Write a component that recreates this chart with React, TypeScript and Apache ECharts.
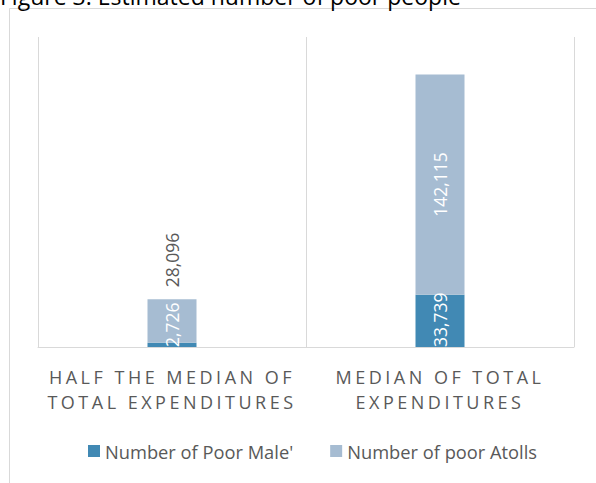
import React, { useEffect, useRef } from "react";
import * as echarts from "echarts";

const titleText = "Figure 3: Estimated number of poor people";
const categories = ["HALF THE MEDIAN OF\nTOTAL EXPENDITURES", "MEDIAN OF TOTAL\nEXPENDITURES"];
const seriesNames = ["Number of Poor Male'", "Number of poor Atolls"];
const maleValues = [2726, 33739];
const atollValues = [28096, 142115];
const colors = ["#4189b4", "#a6bcd2"];
const textColor = "#595959";
const fontFamily = "'Open Sans', sans-serif";

const fmt = (v: number) => v.toLocaleString("en-US");

export default function App() {
  const ref = useRef<HTMLDivElement>(null);
  useEffect(() => {
    if (!ref.current) return;
    const chart = echarts.init(ref.current, null, { renderer: "svg" });
    chart.setOption({
      animation: false,
      textStyle: { fontFamily },
      graphic: [
        {
          type: "rect",
          shape: { x: 9.5, y: 8.5, width: 700, height: 600 },
          style: { fill: "none", stroke: "#d9d9d9", lineWidth: 1 },
          silent: true,
        },
        {
          type: "text",
          x: 0,
          y: 7.5,
          style: {
            text: titleText,
            fontSize: 23,
            fontFamily,
            fill: "#000000",
            textAlign: "left",
            textVerticalAlign: "bottom",
          },
        },
      ],
      grid: { left: 38, right: 22, top: 37, bottom: 136, containLabel: false },
      legend: {
        left: 83,
        top: 437,
        itemWidth: 12,
        itemHeight: 12,
        itemGap: 37,
        icon: "rect",
        textStyle: { color: textColor, fontSize: 18.3, fontFamily, padding: [0, 0, 0, 0] },
        data: seriesNames,
      },
      xAxis: {
        type: "category",
        data: categories,
        boundaryGap: true,
        axisLine: { show: true, lineStyle: { color: "#d9d9d9", width: 1 } },
        axisTick: { show: false },
        splitLine: { show: true, lineStyle: { color: "#d9d9d9", width: 1 } },
        axisLabel: {
          color: textColor,
          fontSize: 18,
          fontFamily,
          lineHeight: 25,
          margin: 17,
          interval: 0,
        },
      },
      yAxis: {
        type: "value",
        min: 0,
        max: 200000,
        show: false,
        splitLine: { show: false },
      },
      series: [
        {
          name: seriesNames[0],
          type: "bar",
          stack: "total",
          barWidth: 49,
          itemStyle: { color: colors[0] },
          data: maleValues.map((v) => ({
            value: v,
            label: {
              show: true,
              position: "insideBottom",
              rotate: 90,
              align: "left",
              verticalAlign: "middle",
              distance: 0,
              color: "#ffffff",
              fontSize: 17.5,
              fontFamily,
              formatter: () => fmt(v),
            },
          })),
        },
        {
          name: seriesNames[1],
          type: "bar",
          stack: "total",
          barWidth: 49,
          itemStyle: { color: colors[1] },
          data: atollValues.map((v, i) => ({
            value: v,
            label:
              i === 0
                ? {
                    show: true,
                    position: "top",
                    rotate: 90,
                    align: "left",
                    verticalAlign: "middle",
                    distance: 8,
                    offset: [4, 0],
                    color: textColor,
                    fontSize: 17.5,
                    fontFamily,
                    formatter: () => fmt(v),
                  }
                : {
                    show: true,
                    position: "inside",
                    rotate: 90,
                    align: "center",
                    verticalAlign: "middle",
                    color: "#ffffff",
                    fontSize: 17.5,
                    fontFamily,
                    formatter: () => fmt(v),
                  },
          })),
        },
      ],
    });
    return () => chart.dispose();
  }, []);
  return (
    <>
      <style>{`#chartbox text[style*="18px"] { letter-spacing: 3.5px; }
#chartbox text[font-size="18"] { letter-spacing: 3.5px; }`}</style>
      <div id="chartbox" ref={ref} style={{ width: 596, height: 483, position: "absolute", left: 0, top: 0 }} />
    </>
  );
}
